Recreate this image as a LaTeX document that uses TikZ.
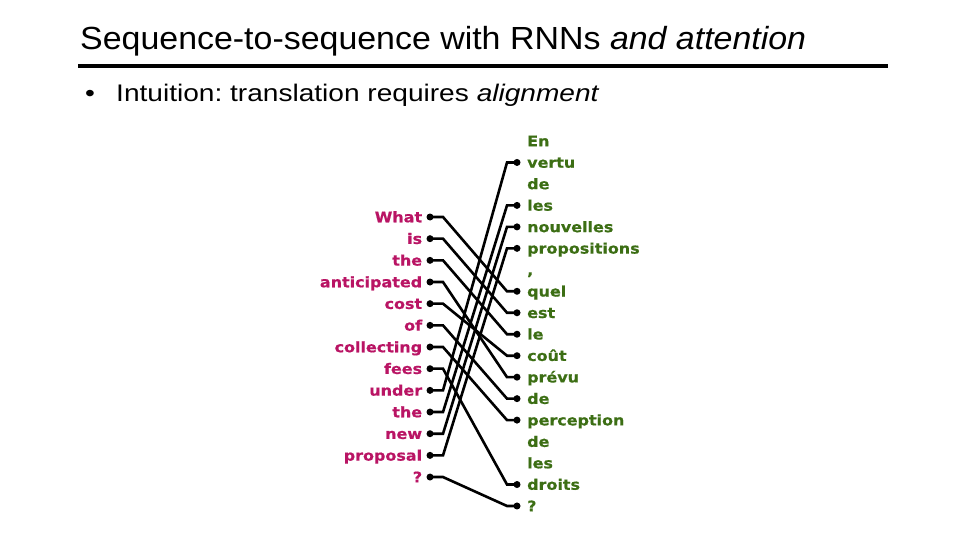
\documentclass[tikz,border=0pt]{standalone}
\usepackage{fontspec}
\setmainfont{Liberation Sans}
\newfontfamily\titlefont[FakeStretch=1.06]{Liberation Sans}
\newfontfamily\bulletfont[FakeStretch=1.17]{Liberation Sans}
\newfontfamily\wordfont[FakeStretch=1.1,BoldFeatures={FakeBold=0.6}]{DejaVu Sans}
\usetikzlibrary{positioning}
\definecolor{srccol}{RGB}{185,20,100}
\definecolor{tgtcol}{RGB}{60,110,20}
\frenchspacing

\begin{document}
\begin{tikzpicture}[x=1pt,y=-1pt,
  word/.style={inner sep=0pt,font=\wordfont\bfseries\fontsize{14.5}{16}\selectfont,text height=13.5pt,text depth=3pt},
  srcw/.style={word,text=srccol},
  tgtw/.style={word,text=tgtcol},
  dot/.style={circle,fill=black,inner sep=0pt,minimum size=7pt},
  link/.style={line width=2.6pt}]
  \useasboundingbox (0,0) rectangle (960,540);
  % title and bullet
  \node[anchor=base west,inner sep=0pt,font=\titlefont\fontsize{32}{36}\selectfont] (title) at (80,50)
    {Sequence-to-sequence with RNNs \textit{and attention}};
  \draw[line width=4pt] (78,66) -- (888,66);
  \node[anchor=base,inner sep=0pt,font=\bulletfont\fontsize{24}{28}\selectfont] (blt) at (90,102) {•};
  \node[anchor=base west,inner sep=0pt,font=\bulletfont\fontsize{24}{28}\selectfont] (intu) at (116,102)
    {Intuition: translation requires \textit{alignment}};
  % english side
  \foreach \w [count=\i] in {What,is,the,anticipated,cost,of,collecting,fees,under,the,new,proposal,?}{
    \node[dot] (s\i) at (430,{217+21.67*(\i-1)}) {};
    \node[srcw,left=4pt of s\i] (sw\i) {\w};
  }
  % french side
  \foreach \w/\f [count=\i] in {En/0,vertu/1,de/0,les/1,nouvelles/1,propositions/1,{,}/0,quel/1,est/1,le/1,
      coût/1,prévu/1,de/1,perception/1,de/0,les/0,droits/1,?/1}{
    \coordinate (t\i) at (517,{141+21.47*(\i-1)});
    \node[tgtw,right=10pt of t\i] (tw\i) {\w};
    \ifnum\f=1 \node[dot] at (t\i) {}; \fi
  }
  \foreach \a/\b in {1/8,2/9,3/10,4/12,5/11,6/13,7/14,8/17,9/2,10/4,11/5,12/6,13/18}
    \draw[link] (s\a.center) -- ++(13,0) -- ([xshift=-10pt]t\b) -- (t\b);
\end{tikzpicture}
\end{document}
